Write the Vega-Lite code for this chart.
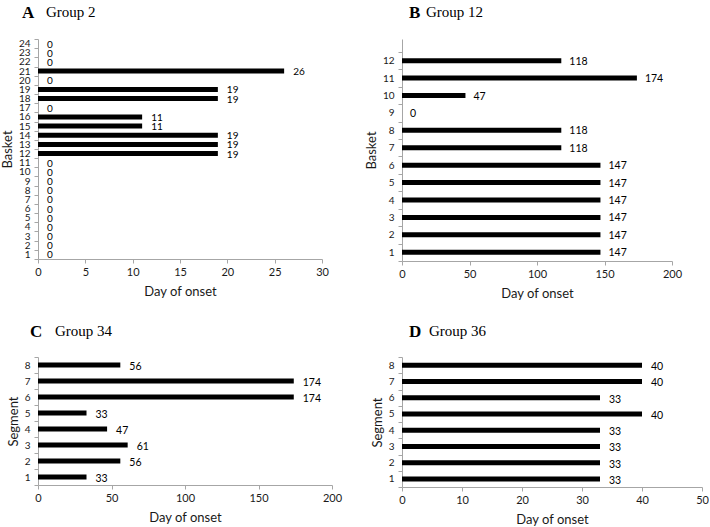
{
  "$schema": "https://vega.github.io/schema/vega-lite/v6.json",
  "background": "white",
  "padding": {"left": 1, "top": 4, "right": 0, "bottom": 0},
  "datasets": {
    "g2": [
      {"basket": 1, "day": 0}, {"basket": 2, "day": 0}, {"basket": 3, "day": 0}, {"basket": 4, "day": 0},
      {"basket": 5, "day": 0}, {"basket": 6, "day": 0}, {"basket": 7, "day": 0}, {"basket": 8, "day": 0},
      {"basket": 9, "day": 0}, {"basket": 10, "day": 0}, {"basket": 11, "day": 0}, {"basket": 12, "day": 19},
      {"basket": 13, "day": 19}, {"basket": 14, "day": 19}, {"basket": 15, "day": 11}, {"basket": 16, "day": 11},
      {"basket": 17, "day": 0}, {"basket": 18, "day": 19}, {"basket": 19, "day": 19}, {"basket": 20, "day": 0},
      {"basket": 21, "day": 26}, {"basket": 22, "day": 0}, {"basket": 23, "day": 0}, {"basket": 24, "day": 0}
    ],
    "g12": [
      {"basket": 1, "day": 147}, {"basket": 2, "day": 147}, {"basket": 3, "day": 147}, {"basket": 4, "day": 147},
      {"basket": 5, "day": 147}, {"basket": 6, "day": 147}, {"basket": 7, "day": 118}, {"basket": 8, "day": 118},
      {"basket": 9, "day": 0}, {"basket": 10, "day": 47}, {"basket": 11, "day": 174}, {"basket": 12, "day": 118}
    ],
    "g34": [
      {"segment": 1, "day": 33}, {"segment": 2, "day": 56}, {"segment": 3, "day": 61}, {"segment": 4, "day": 47},
      {"segment": 5, "day": 33}, {"segment": 6, "day": 174}, {"segment": 7, "day": 174}, {"segment": 8, "day": 56}
    ],
    "g36": [
      {"segment": 1, "day": 33}, {"segment": 2, "day": 33}, {"segment": 3, "day": 33}, {"segment": 4, "day": 33},
      {"segment": 5, "day": 40}, {"segment": 6, "day": 33}, {"segment": 7, "day": 40}, {"segment": 8, "day": 40}
    ]
  },
  "columns": 2,
  "spacing": {"row": 96, "column": 70},
  "bounds": "flush",
  "concat": [
    {
      "width": 284,
      "height": 220,
      "data": {"name": "g2"},
      "title": {"text": "A", "subtitle": "Group 2", "dx": 8, "offset": 12, "encoding": {"dx": {"value": -16}}},
      "encoding": {
        "y": {"field": "basket", "type": "ordinal", "sort": "descending",
          "scale": {"paddingInner": 0, "paddingOuter": 0},
          "axis": {"title": "Basket"}},
        "x": {"field": "day", "type": "quantitative",
          "scale": {"domain": [0, 30], "nice": false},
          "axis": {"values": [0, 5, 10, 15, 20, 25, 30], "title": "Day of onset"}}
      },
      "layer": [
        {"mark": {"type": "bar", "height": 5, "color": "black"}},
        {"mark": {"type": "text", "align": "left", "baseline": "middle", "dx": 9, "dy": 1, "fontSize": 10},
          "encoding": {"text": {"field": "day", "type": "quantitative"}}}
      ]
    },
    {
      "width": 270,
      "height": 222,
      "data": {"name": "g12"},
      "title": {"text": "B", "subtitle": "Group 12", "dx": 24, "offset": 12, "encoding": {"dx": {"value": 7}}},
      "encoding": {
        "y": {"field": "basket", "type": "ordinal", "sort": "descending",
          "scale": {"paddingInner": 0, "paddingOuter": 0.372, "align": 1},
          "axis": {"title": "Basket"}},
        "x": {"field": "day", "type": "quantitative",
          "scale": {"domain": [0, 200], "nice": false},
          "axis": {"values": [0, 50, 100, 150, 200], "title": "Day of onset"}}
      },
      "layer": [
        {"mark": {"type": "bar", "height": 5, "color": "black"}},
        {"mark": {"type": "text", "align": "left", "baseline": "middle", "dx": 8, "dy": 1},
          "encoding": {"text": {"field": "day", "type": "quantitative"}}}
      ]
    },
    {
      "width": 294,
      "height": 128,
      "data": {"name": "g34"},
      "title": {"text": "C", "subtitle": "Group 34", "dx": 17, "offset": 11, "encoding": {"dx": {"value": -8}}},
      "encoding": {
        "y": {"field": "segment", "type": "ordinal", "sort": "descending",
          "scale": {"paddingInner": 0, "paddingOuter": 0},
          "axis": {"title": "Segment"}},
        "x": {"field": "day", "type": "quantitative",
          "scale": {"domain": [0, 200], "nice": false},
          "axis": {"values": [0, 50, 100, 150, 200], "title": "Day of onset"}}
      },
      "layer": [
        {"mark": {"type": "bar", "height": 5, "color": "black"}},
        {"mark": {"type": "text", "align": "left", "baseline": "middle", "dx": 9, "dy": 2},
          "encoding": {"text": {"field": "day", "type": "quantitative"}}}
      ]
    },
    {
      "width": 300,
      "height": 130,
      "data": {"name": "g36"},
      "title": {"text": "D", "subtitle": "Group 36", "dx": 27, "offset": 11, "encoding": {"dx": {"value": 7}}},
      "encoding": {
        "y": {"field": "segment", "type": "ordinal", "sort": "descending",
          "scale": {"paddingInner": 0, "paddingOuter": 0},
          "axis": {"title": "Segment"}},
        "x": {"field": "day", "type": "quantitative",
          "scale": {"domain": [0, 50], "nice": false},
          "axis": {"values": [0, 10, 20, 30, 40, 50], "title": "Day of onset"}}
      },
      "layer": [
        {"mark": {"type": "bar", "height": 5, "color": "black"}},
        {"mark": {"type": "text", "align": "left", "baseline": "middle", "dx": 9, "dy": 2},
          "encoding": {"text": {"field": "day", "type": "quantitative"}}}
      ]
    }
  ],
  "config": {
    "view": {"stroke": null},
    "axis": {
      "grid": false,
      "domainColor": "#a6a6a6",
      "tickColor": "#a6a6a6",
      "tickSize": 4,
      "labelColor": "#1a1a1a",
      "titleColor": "#1a1a1a",
      "labelFont": "Lato",
      "titleFont": "Lato",
      "labelFontSize": 11,
      "titleFontSize": 13,
      "titleFontWeight": "normal",
      "labelOverlap": false,
      "labelPadding": 3
    },
    "axisX": {"titlePadding": 8, "labelFlush": false},
    "axisY": {"tickBand": "extent", "labelPadding": 4, "titlePadding": 4, "labelBaseline": "middle", "labelFontSize": 10},
    "text": {"font": "Lato", "fontSize": 10.5, "color": "black"},
    "title": {
      "anchor": "start",
      "frame": "group",
      "font": "Liberation Serif",
      "fontSize": 17,
      "fontWeight": "bold",
      "color": "black",
      "subtitleFont": "Liberation Serif",
      "subtitleFontSize": 15,
      "subtitleColor": "black",
      "subtitleFontWeight": "normal",
      "subtitlePadding": -17
    }
  }
}
